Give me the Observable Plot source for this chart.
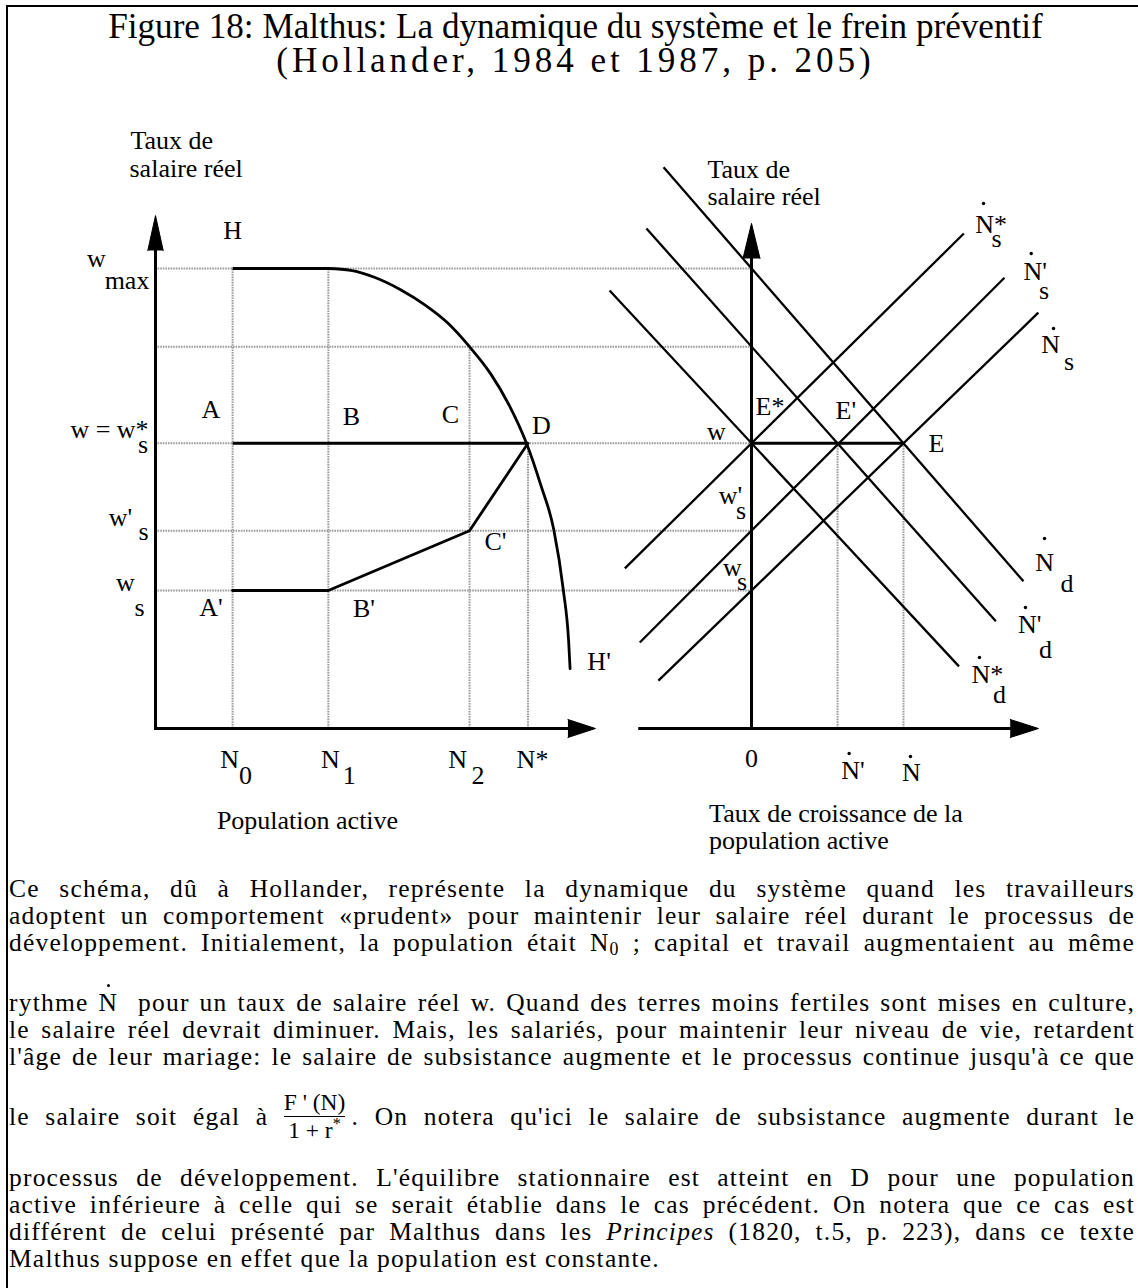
<!DOCTYPE html>
<html lang="fr">
<head>
<meta charset="utf-8">
<title>Figure 18 — Malthus : la dynamique du système et le frein préventif</title>
<script src="https://cdn.jsdelivr.net/npm/d3@7"></script>
<script src="https://cdn.jsdelivr.net/npm/@observablehq/plot@0.6"></script>
<style>
  html, body { margin: 0; padding: 0; background: #fff; }
  body { width: 1138px; height: 1288px; position: relative; overflow: hidden; }
  #frame { position: absolute; left: 6px; top: 5px; width: 1150px; height: 1320px;
           border-top: 2.5px solid #000; border-left: 2.5px solid #000; box-sizing: border-box; }
  .title { position: absolute; left: 0; width: 1151px; text-align: center; white-space: nowrap;
           font-family: "Liberation Serif", "Times New Roman", serif; font-size: 35px; line-height: 35px; color: #000; }
  #chart { position: absolute; left: 0; top: 96px; }
  #caption { position: absolute; left: 9px; top: 874.5px; width: 1126px; color: #000;
             font-family: "Liberation Serif", "Times New Roman", serif; font-size: 25.5px; line-height: 27px; }
  #caption .ln { height: 27px; white-space: nowrap; }
  #caption sub { font-size: 0.7em; line-height: 0; vertical-align: -0.25em; }
  .nd { position: relative; display: inline-block; }
  .nd::after { content: ""; position: absolute; left: 50%; margin-left: -1.75px; top: -5px;
               width: 3.5px; height: 3.5px; border-radius: 50%; background: #000; }
  .frac { position: relative; display: inline-block; font-size: 0.92em; line-height: 20px; word-spacing: 0; letter-spacing: 0; }
  .frac .hold { visibility: hidden; }
  .frac .num, .frac .den { position: absolute; left: 0; right: 0; text-align: center; white-space: nowrap; }
  .frac .num { top: -14.6px; }
  .frac .den { top: 13.4px; }
  .frac .den sup { font-size: 0.7em; line-height: 0; vertical-align: 0.55em; }
  .frac .bar { position: absolute; left: 0; right: 0; top: 9.5px; border-top: 1.3px solid #000; }
</style>
</head>
<body>
<div id="frame"></div>
<div class="title" id="t1" style="top:8.7px"><span>Figure 18: Malthus: La dynamique du système et le frein préventif</span></div>
<div class="title" id="t2" style="top:42.7px"><span>(Hollander, 1984 et 1987, p. 205)</span></div>
<div id="chart"></div>
<div id="caption">
  <div class="ln j"><span class="in">Ce schéma, dû à Hollander, représente la dynamique du système quand les travailleurs</span></div>
  <div class="ln j"><span class="in">adoptent un comportement «prudent» pour maintenir leur salaire réel durant le processus de</span></div>
  <div class="ln j"><span class="in">développement. Initialement, la population était N<sub>0</sub> ; capital et travail augmentaient au même</span></div>
  <div class="ln j" style="margin-top:33px"><span class="in">rythme <span class="nd">N</span>&nbsp; pour un taux de salaire réel w. Quand des terres moins fertiles sont mises en culture,</span></div>
  <div class="ln j"><span class="in">le salaire réel devrait diminuer. Mais, les salariés, pour maintenir leur niveau de vie, retardent</span></div>
  <div class="ln j"><span class="in">l'âge de leur mariage: le salaire de subsistance augmente et le processus continue jusqu'à ce que</span></div>
  <div class="ln j" style="margin-top:33px"><span class="in">le salaire soit égal à <span class="frac"><span class="hold">F ' (N)</span><span class="num">F ' (N)</span><span class="bar"></span><span class="den">1 + r<sup>*</sup></span></span>&thinsp;. On notera qu'ici le salaire de subsistance augmente durant le</span></div>
  <div class="ln j" style="margin-top:34px"><span class="in">processus de développement. L'équilibre stationnaire est atteint en D pour une population</span></div>
  <div class="ln j"><span class="in">active inférieure à celle qui se serait établie dans le cas précédent. On notera que ce cas est</span></div>
  <div class="ln j"><span class="in">différent de celui présenté par Malthus dans les <i>Principes</i> (1820, t.5, p. 223), dans ce texte</span></div>
  <div class="ln"><span class="in">Malthus suppose en effet que la population est constante.</span></div>
</div>
<script>
// ---------- data ----------
// Left panel: active population N (arbitrary units) against the real wage w
const popLabels = ["N0", "N1", "N2", "N*"];
const popValues = [20.7, 46.4, 84.3, 100];
const wageLabels = ["w max", "w (C)", "w = w*s", "w's", "ws"];
const wageValues = [100, 83, 62, 43, 30];

// Wage frontier H – H'
const frontierN = [46.4, 52.4, 59.1, 65.8, 72.5, 78.4, 84.3, 89.9, 95.0, 99.6, 103.4, 106.9, 109.5, 110.9, 111.3];
const frontierW = [100, 99.6, 98.0, 95.4, 92.0, 88.2, 83.0, 77.2, 70.2, 62.0, 53.0, 43.3, 30.0, 19.1, 13.0];

// Rising subsistence wage A' – B' – C' – D
const subsistN = [20.7, 46.4, 84.3, 100];
const subsistW = [30, 30, 43, 62];

// Right panel: growth rate of the active population
const growthLabels = ["0", "N'", "N"];
const growthValues = [0, 23.1, 40.8];

// Supply schedules of population growth [growth, wage] at each end
const supplyNames = ["N*s", "N's", "Ns"];
const supplyFrom = [[-34, 34.8], [-30, 18.7], [-25, 10.4]];
const supplyTo = [[57, 107.6], [67.9, 98.0], [77, 90.4]];

// Demand schedules of labour growth [growth, wage] at each end
const demandNames = ["N*d", "N'd", "Nd"];
const demandFrom = [[-38.1, 95.2], [-28.2, 108.7], [-23.6, 122]];
const demandTo = [[55.7, 13.5], [65.6, 23.3], [73, 32]];

// ---------- layout ----------
const TOP = 96;                         // top of the svg on the page
const X_RANGE = [155, 527.5];           // pixels for N = 0 and N = 100
const Y_RANGE = [728 - TOP, 268 - TOP]; // pixels for w = 0 and w = 100
const PX_N = (X_RANGE[1] - X_RANGE[0]) / 100;
const PX_W = (Y_RANGE[0] - Y_RANGE[1]) / 100;
const RIGHT0 = 160;                     // growth-rate origin on the shared horizontal scale
const R = g => RIGHT0 + g;

const LEFT_Y_TIP = 111.5, LEFT_X_TIP = 118.1;
const RIGHT_Y_TIP = 109.8, RIGHT_X_TIP = 77.05, RIGHT_X_START = -30;

const FONT = "Liberation Serif, 'Times New Roman', serif";
const GRID = {stroke: "#9a9a9a", strokeWidth: 2, strokeDasharray: "1.6,1"};

const [N0, N1, N2, NS] = popValues;
const [wMax, wC, wStar, wPrime, wSub] = wageValues;
const [g0, gPrime, gE] = growthValues;

// ---------- derived tables ----------
const hGrid = wageValues.map(w => ({x1: 0, x2: R(g0), y: w}));
const vGrid = [
  {x: N0, y2: wMax}, {x: N1, y2: wMax}, {x: N2, y2: wC}, {x: NS, y2: wStar},
  {x: R(gPrime), y2: wStar}, {x: R(gE), y2: wStar}
];
const frontier = frontierN.map((n, i) => ({x: n, y: frontierW[i]}));
const subsist = subsistN.map((n, i) => ({x: n, y: subsistW[i]}));
const flats = [
  {x1: N0, x2: N1, y: wMax},
  {x1: N0, x2: NS, y: wStar},
  {x1: R(g0), x2: R(gE), y: wStar}
];
const schedules = [
  ...supplyNames.map((name, i) => ({name, x1: R(supplyFrom[i][0]), y1: supplyFrom[i][1], x2: R(supplyTo[i][0]), y2: supplyTo[i][1]})),
  ...demandNames.map((name, i) => ({name, x1: R(demandFrom[i][0]), y1: demandFrom[i][1], x2: R(demandTo[i][0]), y2: demandTo[i][1]}))
];

// axes: shafts stop at the base of the filled arrowheads
const headUp = (x0, tip, len, half, id) => [
  {id, x: x0 - half / PX_N, y: tip - len / PX_W}, {id, x: x0, y: tip}, {id, x: x0 + half / PX_N, y: tip - len / PX_W}
];
const headRight = (tip, len, half, id) => [
  {id, x: tip - len / PX_N, y: -half / PX_W}, {id, x: tip, y: 0}, {id, x: tip - len / PX_N, y: half / PX_W}
];
const heads = [
  ...headUp(0, LEFT_Y_TIP, 35, 7.7, "ly"),
  ...headRight(LEFT_X_TIP, 27.5, 9, "lx"),
  ...headUp(R(0), RIGHT_Y_TIP, 35, 8.5, "ry"),
  ...headRight(R(RIGHT_X_TIP), 28.3, 9, "rx")
];
const shafts = [
  {x1: 0, y1: 0, x2: 0, y2: LEFT_Y_TIP - 34 / PX_W},
  {x1: 0, y1: 0, x2: LEFT_X_TIP - 26.5 / PX_N, y2: 0},
  {x1: R(0), y1: 0, x2: R(0), y2: RIGHT_Y_TIP - 34 / PX_W},
  {x1: R(RIGHT_X_START), y1: 0, x2: R(RIGHT_X_TIP) - 27.3 / PX_N, y2: 0}
];

// ---------- annotations: [text, x, y, dx, dy, anchor] ----------
const fEnd = frontier[frontier.length - 1];
const notes = [
  ["Taux de", 0, LEFT_Y_TIP, -25, -75, "start"],
  ["salaire réel", 0, LEFT_Y_TIP, -26, -47, "start"],
  ["H", N0, wMax, 0, -38],
  ["w", 0, wMax, -59, -9.5],
  ["max", 0, wMax, -28.5, 12.5],
  ["A", N0, wStar, -21.6, -33.8],
  ["B", N1, wStar, 23, -27],
  ["C", N2, wStar, -19, -29],
  ["D", NS, wStar, 13.5, -18],
  ["w = w*", 0, wStar, -46, -14],
  ["s", 0, wStar, -12.5, 1.7],
  ["w'", 0, wPrime, -35, -12.7],
  ["s", 0, wPrime, -12, 1.3],
  ["w", 0, wSub, -30, -7.5],
  ["s", 0, wSub, -16, 17.5],
  ["A'", N0, wSub, -21.6, 17],
  ["B'", N1, wSub, 35.7, 18.5],
  ["C'", N2, wPrime, 26, 11.3],
  ["H'", fEnd.x, fEnd.y, 29, -7],
  ["N", N0, 0, -3, 31], ["0", N0, 0, 13, 47],
  ["N", N1, 0, 2, 31], ["1", N1, 0, 21, 47],
  ["N", N2, 0, -12, 31], ["2", N2, 0, 8.5, 47],
  ["N*", NS, 0, 4.5, 31],
  ["Population active", 0, 0, 152, 92],

  ["Taux de", R(0), RIGHT_Y_TIP, -44, -54, "start"],
  ["salaire réel", R(0), RIGHT_Y_TIP, -44, -27, "start"],
  ["N*", R(supplyTo[0][0]), supplyTo[0][1], 11.3, -9, "start"],
  ["s", R(supplyTo[0][0]), supplyTo[0][1], 32.7, 5.5],
  ["N'", R(supplyTo[1][0]), supplyTo[1][1], 19.1, -5.7, "start"],
  ["s", R(supplyTo[1][0]), supplyTo[1][1], 39.6, 12.8],
  ["N", R(supplyTo[2][0]), supplyTo[2][1], 2.8, 31.8, "start"],
  ["s", R(supplyTo[2][0]), supplyTo[2][1], 30.7, 48.8],
  ["E*", R(g0), wStar, 4, -37, "start"],
  ["E'", R(gPrime), wStar, -2, -33, "start"],
  ["w", R(g0), wStar, -35, -12],
  ["E", R(gE), wStar, 33, 0.7],
  ["w'", R(g0), wPrime, -21, -35],
  ["s", R(g0), wPrime, -10.5, -20],
  ["w", R(g0), wSub, -19, -22.5],
  ["s", R(g0), wSub, -9.5, -9],
  ["N", R(demandTo[2][0]), demandTo[2][1], 11.7, -19, "start"],
  ["d", R(demandTo[2][0]), demandTo[2][1], 43.6, 2.7],
  ["N'", R(demandTo[1][0]), demandTo[1][1], 22.1, 3.7, "start"],
  ["d", R(demandTo[1][0]), demandTo[1][1], 49.6, 28],
  ["N*", R(demandTo[0][0]), demandTo[0][1], 12.5, 8, "start"],
  ["d", R(demandTo[0][0]), demandTo[0][1], 40.5, 28.6],
  [growthLabels[0], R(g0), 0, 0, 30.5],
  ["N'", R(gPrime), 0, 3.7, 42, "start"],
  ["N", R(gE), 0, 8, 44],
  ["Taux de croissance de la", R(g0), 0, -42.4, 85, "start"],
  ["population active", R(g0), 0, -42.4, 112, "start"]
];

// dots marking the time derivative on every Ṅ: [x, y, dx, dy]
const dotMarks = [
  [R(supplyTo[0][0]), supplyTo[0][1], 19.7, -30],
  [R(supplyTo[1][0]), supplyTo[1][1], 26.8, -24.2],
  [R(supplyTo[2][0]), supplyTo[2][1], 15.2, 15.8],
  [R(demandTo[2][0]), demandTo[2][1], 21.1, -42.8],
  [R(demandTo[1][0]), demandTo[1][1], 29.6, -13.8],
  [R(demandTo[0][0]), demandTo[0][1], 20.5, -8.9],
  [R(gPrime), 0, 11.6, 25],
  [R(gE), 0, 7, 28]
];

const textMarks = notes.map(([t, x, y, dx, dy, anchor = "middle"]) =>
  Plot.text([{t, x, y}], {x: "x", y: "y", text: "t", dx, dy, textAnchor: anchor,
    fontSize: 26, fontFamily: FONT, fill: "#000"}));
const dotLayer = dotMarks.map(([x, y, dx, dy]) =>
  Plot.dot([{x, y}], {x: "x", y: "y", dx, dy, r: 1.7, fill: "#000", stroke: "none"}));

const chart = Plot.plot({
  width: 1138,
  height: 760,
  margin: 0,
  x: {type: "linear", domain: [0, 100], range: X_RANGE, axis: null},
  y: {type: "linear", domain: [0, 100], range: Y_RANGE, axis: null},
  style: {background: "transparent", overflow: "visible"},
  marks: [
    Plot.ruleY(hGrid, {y: "y", x1: "x1", x2: "x2", ...GRID}),
    Plot.ruleX(vGrid, {x: "x", y1: 0, y2: "y2", ...GRID}),
    Plot.link(flats, {x1: "x1", x2: "x2", y1: "y", y2: "y", stroke: "#000", strokeWidth: 3}),
    Plot.line(frontier, {x: "x", y: "y", curve: "monotone-x", stroke: "#000", strokeWidth: 2.8}),
    Plot.line(subsist, {x: "x", y: "y", stroke: "#000", strokeWidth: 2.8}),
    Plot.link(schedules, {x1: "x1", y1: "y1", x2: "x2", y2: "y2", stroke: "#000", strokeWidth: 2.3}),
    Plot.link(shafts, {x1: "x1", y1: "y1", x2: "x2", y2: "y2", stroke: "#000", strokeWidth: 3, strokeLinecap: "square"}),
    Plot.line(heads, {x: "x", y: "y", z: "id", fill: "#000", stroke: "#000", strokeWidth: 1}),
    ...textMarks,
    ...dotLayer
  ]
});
document.getElementById("chart").append(chart);

// Title: first line set to its measured span, second line spaced to its span.
function fitTitle() {
  const t1 = document.getElementById("t1"), t2 = document.getElementById("t2");
  const s1 = t1.firstElementChild, s2 = t2.firstElementChild;
  t1.style.fontSize = t2.style.fontSize = "35px";
  t2.style.letterSpacing = "0px";
  const w1 = s1.getBoundingClientRect().width;
  const size = Math.min(36, 35 * 935 / w1);
  t1.style.fontSize = t2.style.fontSize = size + "px";
  const w2 = s2.getBoundingClientRect().width;
  const n = s2.textContent.length;
  const target2 = 935 * 0.64;
  if (w2 < target2) t2.style.letterSpacing = ((target2 - w2) / n) + "px";
}

// Caption: open the tracking until the widest line nearly fills the block,
// then justify each line through word spacing.
function fitCaption() {
  const target = 1126;
  const cap = document.getElementById("caption");
  const lines = [...cap.querySelectorAll(".ln.j")];
  cap.style.letterSpacing = "0px";
  lines.forEach(ln => ln.style.wordSpacing = "0px");
  const measure = ln => ln.querySelector(".in").getBoundingClientRect().width;
  let widest = 0, widestChars = 1;
  lines.forEach(ln => {
    const w = measure(ln);
    if (w > widest) { widest = w; widestChars = ln.textContent.trim().length; }
  });
  const track = Math.max(-0.3, Math.min(1.2, (target - 6 - widest) / widestChars));
  cap.style.letterSpacing = track + "px";
  lines.forEach(ln => {
    const inner = ln.querySelector(".in");
    const width = inner.getBoundingClientRect().width;
    let spaces = 0;
    const walker = document.createTreeWalker(inner, NodeFilter.SHOW_TEXT);
    while (walker.nextNode()) {
      const node = walker.currentNode;
      if (node.parentElement.closest(".frac")) continue;
      spaces += (node.textContent.replace(/ +/g, " ").match(/[ \u00a0]/g) || []).length;
    }
    if (spaces > 0) ln.style.wordSpacing = ((target - width) / spaces) + "px";
  });
}
function fitAll() { fitTitle(); fitCaption(); }
fitAll();
if (document.fonts && document.fonts.ready) document.fonts.ready.then(fitAll);
</script>
</body>
</html>
